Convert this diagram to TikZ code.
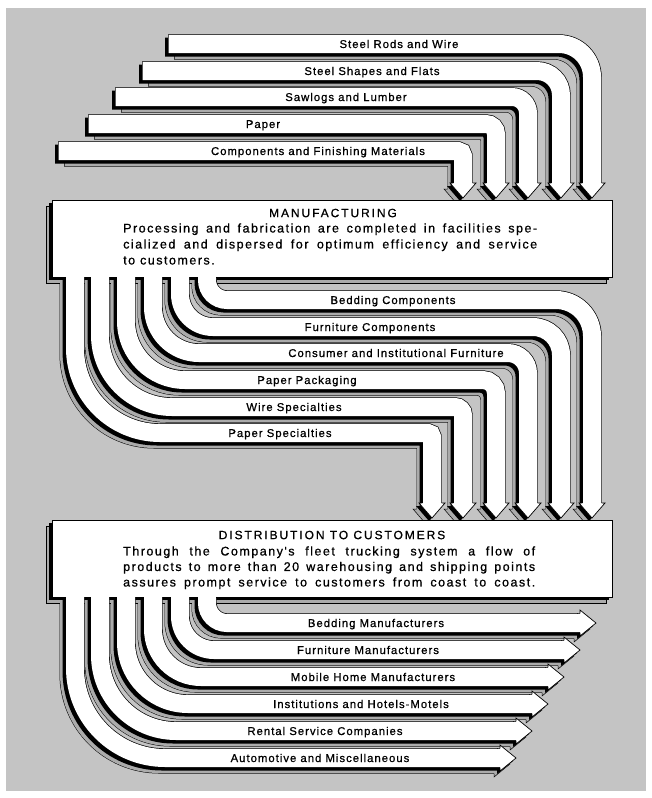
\documentclass[tikz,border=0pt]{standalone}
\usepackage{fontspec}
\setmainfont{Liberation Sans}
\newfontfamily\lblfont[LetterSpace=9,FakeBold=0.8]{Liberation Sans}
\newfontfamily\bodyfont[LetterSpace=12,FakeBold=0.8]{Liberation Sans}
\newfontfamily\headfont[LetterSpace=16,FakeBold=0.8]{Liberation Sans}
\definecolor{paper}{gray}{0.77}
\definecolor{stripgray}{gray}{0.67}
\tikzset{
 lbl/.style={font=\lblfont\fontsize{11.3}{13}\selectfont, inner sep=0pt, anchor=base},
 boxhead/.style={font=\headfont\fontsize{12}{14}\selectfont, inner sep=0pt},
 boxbody/.style={font=\bodyfont\fontsize{12.5}{16}\selectfont, inner sep=0pt, anchor=north west, align=left},
 sO/.style={line width=19pt, black},
 sI/.style={line width=18pt, stripgray},
 sh/.style={line width=19pt, black},
 bO/.style={line width=19.4pt, black},
 bI/.style={line width=18pt, white},
 hs/.style={fill=stripgray, draw=black, line width=0.5pt},
 hb/.style={fill=white, draw=black, line width=0.7pt},
}
\def\topbands{168/44/592/33, 142/71/561/24, 115/97/528/16, 88/124/496/10, 58/151/463/5}
\def\midbands{207/300/592/20/36, 180/327/561/33/28, 153/353/528/46/20, 126/380/496/59/13, 100/407/463/72/8, 75/433/432/85/4}
\def\botbands{207/623/580/20, 180/650/564/34, 153/677/548/48, 126/704/532/62, 100/731/516/76, 75/758/500/90}
\begin{document}
\begin{tikzpicture}[x=1pt,y=-1pt]
\useasboundingbox (0,0) rectangle (652,798);
\fill[white] (0,0) rectangle (652,798);
\fill[paper] (6,8) rectangle (646,791);

% ---------------- TOP GROUP ----------------
\foreach \L/\Y/\X/\r in \topbands {
 \begin{scope}[shift={(-6,6)}]
  \draw[sO, shorten <=12pt] (\L,\Y) -- (\X-\r,\Y) arc[start angle=270,end angle=360,radius=\r] -- (\X,183);
  \draw[sI, shorten <=12.5pt] (\L,\Y) -- (\X-\r,\Y) arc[start angle=270,end angle=360,radius=\r] -- (\X,183);
  \filldraw[hs] (\X-9.5,183) -- (\X-13,183) -- (\X,198) -- (\X+13,183) -- (\X+9.5,183);
 \end{scope}
}
\foreach \L/\Y/\X/\r in \topbands {
 \begin{scope}[shift={(-3,3)}]
  \draw[sh] (\L,\Y) -- (\X-\r,\Y) arc[start angle=270,end angle=360,radius=\r] -- (\X,183);
  \fill[black] (\X-13,183) -- (\X,198) -- (\X+13,183) -- cycle;
 \end{scope}
}
\foreach \L/\Y/\X/\r in \topbands {
  \draw[bO] (\L,\Y) -- (\X-\r,\Y) arc[start angle=270,end angle=360,radius=\r] -- (\X,183);
  \draw[bI, shorten <=0.7pt] (\L,\Y) -- (\X-\r,\Y) arc[start angle=270,end angle=360,radius=\r] -- (\X,183);
  \filldraw[hb] (\X-9.7,183) -- (\X-13,183) -- (\X,198) -- (\X+13,183) -- (\X+9.7,183);
}
\node[lbl] (t1) at (399,48) {Steel Rods and Wire};
\node[lbl] (t2) at (372,75) {Steel Shapes and Flats};
\node[lbl] (t3) at (346,101) {Sawlogs and Lumber};
\node[lbl] (t4) at (263,128) {Paper};
\node[lbl] (t5) at (318,155) {Components and Finishing Materials};

% ---------------- MANUFACTURING BOX ----------------
\filldraw[fill=stripgray, draw=black, line width=0.5pt, shift={(-6,6)}] (52,200) rectangle (612,277);
\fill[black, shift={(-3,3)}] (52,200) rectangle (612,277);

% ---------------- MIDDLE GROUP ----------------
\foreach \C/\Y/\X/\a/\b in \midbands {
 \begin{scope}[shift={(-6,6)}]
  \draw[sO] (\C,277) -- (\C,\Y-\a) arc[start angle=180,end angle=90,radius=\a] -- (\X-\b,\Y) arc[start angle=270,end angle=360,radius=\b] -- (\X,503);
  \draw[sI] (\C,277) -- (\C,\Y-\a) arc[start angle=180,end angle=90,radius=\a] -- (\X-\b,\Y) arc[start angle=270,end angle=360,radius=\b] -- (\X,503);
  \filldraw[hs] (\X-9.5,503) -- (\X-13,503) -- (\X,518) -- (\X+13,503) -- (\X+9.5,503);
 \end{scope}
}
\foreach \C/\Y/\X/\a/\b in \midbands {
 \begin{scope}[shift={(-3,3)}]
  \draw[sh] (\C,277) -- (\C,\Y-\a) arc[start angle=180,end angle=90,radius=\a] -- (\X-\b,\Y) arc[start angle=270,end angle=360,radius=\b] -- (\X,503);
  \fill[black] (\X-13,503) -- (\X,518) -- (\X+13,503) -- cycle;
 \end{scope}
}
\foreach \C/\Y/\X/\a/\b in \midbands {
  \draw[bO] (\C,277) -- (\C,\Y-\a) arc[start angle=180,end angle=90,radius=\a] -- (\X-\b,\Y) arc[start angle=270,end angle=360,radius=\b] -- (\X,503);
  \draw[bI] (\C,277) -- (\C,\Y-\a) arc[start angle=180,end angle=90,radius=\a] -- (\X-\b,\Y) arc[start angle=270,end angle=360,radius=\b] -- (\X,503);
  \filldraw[hb] (\X-9.7,503) -- (\X-13,503) -- (\X,518) -- (\X+13,503) -- (\X+9.7,503);
}
\fill[white] (52,200) rectangle (612,277);
\draw[line width=0.8pt] (66,277) -- (52,277) -- (52,200) -- (612,200) -- (612,277) -- (216,277);
\node[boxhead] (mtitle) at (333,213) {MANUFACTURING};
\node[boxbody] (mtext) at (123,223.2) {\makebox[414pt][s]{Processing and fabrication are completed in facilities spe-}\\
\makebox[414pt][s]{cialized and dispersed for optimum efficiency and service}\\
to customers.};

\node[lbl] (m1) at (393,304) {Bedding Components};
\node[lbl] (m2) at (370,331) {Furniture Components};
\node[lbl] (m3) at (396,357) {Consumer and Institutional Furniture};
\node[lbl] (m4) at (307,384) {Paper Packaging};
\node[lbl] (m5) at (294,411) {Wire Specialties};
\node[lbl] (m6) at (280,437) {Paper Specialties};

% ---------------- DISTRIBUTION BOX ----------------
\filldraw[fill=stripgray, draw=black, line width=0.5pt, shift={(-6,6)}] (52,520) rectangle (612,597);
\fill[black, shift={(-3,3)}] (52,520) rectangle (612,597);

% ---------------- BOTTOM GROUP ----------------
\foreach \C/\Y/\E/\a in \botbands {
 \begin{scope}[shift={(-6,6)}]
  \draw[sO] (\C,597) -- (\C,\Y-\a) arc[start angle=180,end angle=90,radius=\a] -- (\E,\Y);
  \draw[sI] (\C,597) -- (\C,\Y-\a) arc[start angle=180,end angle=90,radius=\a] -- (\E,\Y);
  \filldraw[hs] (\E,\Y-9.5) -- (\E,\Y-13) -- (\E+16,\Y) -- (\E,\Y+13) -- (\E,\Y+9.5);
 \end{scope}
}
\foreach \C/\Y/\E/\a in \botbands {
 \begin{scope}[shift={(-3,3)}]
  \draw[sh] (\C,597) -- (\C,\Y-\a) arc[start angle=180,end angle=90,radius=\a] -- (\E,\Y);
  \fill[black] (\E,\Y-13) -- (\E+16,\Y) -- (\E,\Y+13) -- cycle;
 \end{scope}
}
\foreach \C/\Y/\E/\a in \botbands {
  \draw[bO] (\C,597) -- (\C,\Y-\a) arc[start angle=180,end angle=90,radius=\a] -- (\E,\Y);
  \draw[bI] (\C,597) -- (\C,\Y-\a) arc[start angle=180,end angle=90,radius=\a] -- (\E,\Y);
  \filldraw[hb] (\E,\Y-9.7) -- (\E,\Y-13) -- (\E+16,\Y) -- (\E,\Y+13) -- (\E,\Y+9.7);
}
\fill[white] (52,520) rectangle (612,597);
\draw[line width=0.8pt] (66,597) -- (52,597) -- (52,520) -- (612,520) -- (612,597) -- (216,597);
\node[boxhead] (dtitle) at (332,535) {DISTRIBUTION TO CUSTOMERS};
\node[boxbody, font=\bodyfont\fontsize{12.5}{15.5}\selectfont] (dtext) at (123,546.2) {\makebox[412pt][s]{Through the Company's fleet trucking system a flow of}\\
\makebox[412pt][s]{products to more than 20 warehousing and shipping points}\\
\makebox[412pt][s]{assures prompt service to customers from coast to coast.}};

\node[lbl] (b1) at (376,627) {Bedding Manufacturers};
\node[lbl] (b2) at (368,654) {Furniture Manufacturers};
\node[lbl] (b3) at (373,681) {Mobile Home Manufacturers};
\node[lbl] (b4) at (361,708) {Institutions and Hotels-Motels};
\node[lbl] (b5) at (325,735) {Rental Service Companies};
\node[lbl] (b6) at (320,762) {Automotive and Miscellaneous};
\end{tikzpicture}
\end{document}
